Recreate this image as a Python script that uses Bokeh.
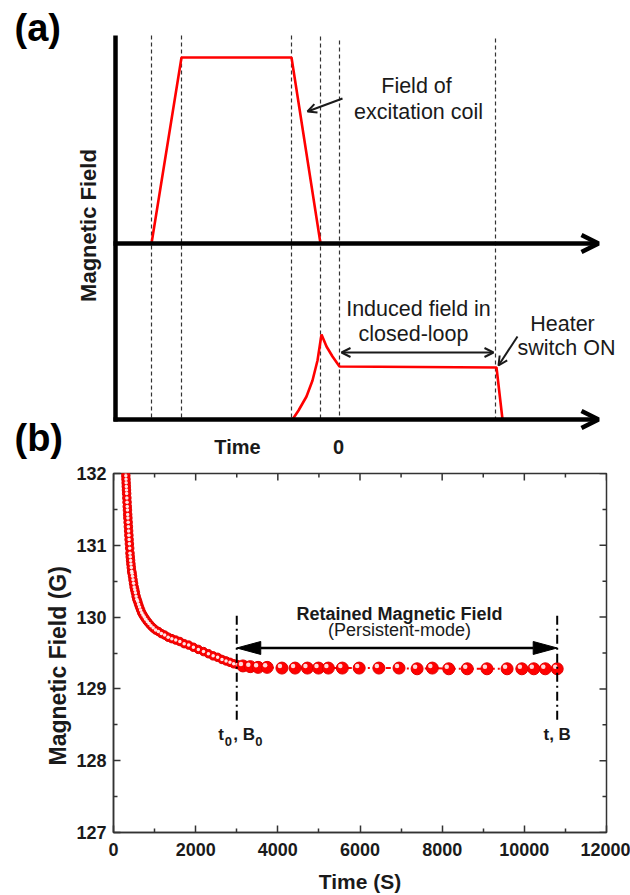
import math
from bokeh.plotting import figure
from bokeh.models import Range1d, FixedTicker, Arrow, OpenHead
from bokeh.embed import file_html
from bokeh.resources import INLINE
from bokeh.core.properties import value

FONT = "Liberation Sans"
RED = "#ff0000"
INK = "#1a1a1a"

# ---------------- panel (a): schematic (units = schematic pixels) ----------------
coil_t = [151, 181, 291, 320]
coil_B = [243, 57, 57, 243]
loop_t = [292, 298, 306, 312, 317, 321, 326, 332, 339, 496, 502]
loop_B = [419, 410, 396, 380, 360, 334, 346, 356, 366, 367, 419]
event_t = [151, 181, 291, 320, 339, 495]
event_top = [35, 35, 35, 36, 40, 38]
axis_left = 115
axis_top = 35
upper_base = 243
lower_base = 419
axis_end = 598

# ---------------- panel (b): measured data ----------------
t_early = [296, 300, 304, 308, 312, 316, 320, 325, 330, 335, 340, 345, 350, 356, 362,
           368, 374, 380, 387, 394, 401, 408, 416, 424, 433, 442, 452, 463, 475, 488,
           502, 517, 533, 550, 568, 588, 610, 634, 660, 688, 718, 750, 785, 823, 865,
           912, 965, 1025, 1092, 1165, 1245, 1330, 1420, 1515, 1615, 1720, 1830, 1945,
           2065, 2190, 2310, 2425, 2535, 2640, 2740, 2835, 2925, 3010]
B_early = [132.02, 131.97, 131.92, 131.87, 131.82, 131.77, 131.72, 131.66, 131.60, 131.54,
           131.49, 131.43, 131.38, 131.32, 131.26, 131.20, 131.14, 131.08, 131.02, 130.96,
           130.89, 130.84, 130.79, 130.74, 130.69, 130.64, 130.61, 130.57, 130.52, 130.47,
           130.42, 130.38, 130.34, 130.29, 130.25, 130.22, 130.18, 130.14, 130.10, 130.06,
           130.03, 130.00, 129.97, 129.94, 129.91, 129.88, 129.85, 129.82, 129.80, 129.77,
           129.75, 129.72, 129.70, 129.68, 129.66, 129.63, 129.61, 129.58, 129.55, 129.52,
           129.49, 129.46, 129.44, 129.41, 129.39, 129.37, 129.35, 129.34]
t_late = [3150, 3330, 3520, 3740, 4100, 4420, 4720, 4990, 5230, 5570, 5980, 6460, 6950,
          7390, 7760, 8160, 8610, 9090, 9580, 9940, 10230, 10510, 10800]
B_late = [129.32, 129.31, 129.30, 129.30, 129.29, 129.29, 129.29, 129.29, 129.29, 129.29,
          129.29, 129.29, 129.29, 129.28, 129.29, 129.28, 129.28, 129.28, 129.28, 129.28,
          129.28, 129.28, 129.28]
x_ticks = [0, 2000, 4000, 6000, 8000, 10000, 12000]
x_minor = [1000, 3000, 5000, 7000, 9000, 11000]
y_ticks = [127, 128, 129, 130, 131, 132]
y_minor = [127.5, 128.5, 129.5, 130.5, 131.5]
t0 = 3000
t_end = 10800
B_arrow = 129.57
B_dash_lo = 128.57
B_dash_hi = 130.07
B_label = 128.28

X0, X1, Y0, Y1 = 0, 12000, 127, 132

# ================= figure (a) =================
HA = 462
pa = figure(width=630, height=HA, x_range=Range1d(0, 630), y_range=Range1d(HA, 0),
            x_axis_type=None, y_axis_type=None, toolbar_location=None,
            output_backend="svg", min_border=0, outline_line_color=None)
pa.grid.visible = False

pa.segment(x0=event_t, y0=event_top, x1=event_t, y1=[lower_base] * len(event_t),
           line_color="#333333", line_width=1.2, line_dash="4 3")
pa.line(coil_t, coil_B, line_color=RED, line_width=2.6)
pa.line(loop_t, loop_B, line_color=RED, line_width=2.6)

pa.line([axis_left, axis_left], [axis_top, lower_base + 2], line_color="black", line_width=4.5)
for yb in (upper_base, lower_base):
    pa.add_layout(Arrow(end=OpenHead(size=17, line_width=4.5, line_color="black"),
                        x_start=axis_left - 2, y_start=yb, x_end=axis_end, y_end=yb,
                        line_width=4.5, line_color="black"))

# pointer arrows
pa.add_layout(Arrow(end=OpenHead(size=9, line_width=2, line_color=INK),
                    x_start=342, y_start=98, x_end=307, y_end=111,
                    line_width=2, line_color=INK))
pa.add_layout(Arrow(start=OpenHead(size=9, line_width=2, line_color=INK),
                    end=OpenHead(size=9, line_width=2, line_color=INK),
                    x_start=341, y_start=352, x_end=493, y_end=352,
                    line_width=2, line_color=INK))
pa.add_layout(Arrow(end=OpenHead(size=9, line_width=2, line_color=INK),
                    x_start=517, y_start=336, x_end=498, y_end=365,
                    line_width=2, line_color=INK))

pa.text(x=[416, 418, 418, 413, 562, 566], y=[93, 119, 316, 341, 331, 355],
        text=["Field of", "excitation coil", "Induced field in", "closed-loop",
              "Heater", "switch ON"], y_offset=-8,
        text_font=value(FONT), text_font_size="21.5px", text_color=INK,
        text_align="center", text_baseline="alphabetic")
pa.text(x=[237, 338], y=[453, 453], text=["Time", "0"], y_offset=-7,
        text_font=value(FONT), text_font_size="20px", text_font_style="bold",
        text_color=INK, text_align="center", text_baseline="alphabetic")
pa.text(x=[88], y=[225], text=["Magnetic Field"], angle=math.pi / 2,
        text_font=value(FONT), text_font_size="22px", text_font_style="bold",
        text_color=INK, text_align="center", text_baseline="middle")
pa.text(x=[14, 14], y=[40, 450], text=["(a)", "(b)"], y_offset=-13,
        text_font=value(FONT), text_font_size="38px", text_font_style="bold",
        text_color="black", text_align="left", text_baseline="alphabetic")

# ================= figure (b) =================
HB = 895 - HA
pb = figure(width=630, height=HB, x_range=Range1d(X0, X1), y_range=Range1d(Y0, Y1),
            toolbar_location=None, output_backend="svg",
            min_border_left=113, min_border_right=24, min_border_top=473 - HA,
            min_border_bottom=895 - 833, outline_line_color="#333333", outline_line_width=1.5)
pb.grid.visible = False

pb.xaxis.ticker = FixedTicker(ticks=x_ticks, minor_ticks=x_minor)
pb.yaxis.ticker = FixedTicker(ticks=y_ticks, minor_ticks=y_minor)
for ax in pb.axis:
    ax.axis_line_color = "#333333"
    ax.axis_line_width = 1.5
    ax.major_tick_line_color = "#333333"
    ax.minor_tick_line_color = "#333333"
    ax.major_tick_line_width = 1.5
    ax.minor_tick_line_width = 1.5
    ax.major_tick_in = 7
    ax.major_tick_out = 0
    ax.minor_tick_in = 4
    ax.minor_tick_out = 0
    ax.major_label_text_font = FONT
    ax.major_label_text_font_size = "18px"
    ax.major_label_text_font_style = "bold"
    ax.major_label_text_color = INK
    ax.axis_label_text_font = FONT
    ax.axis_label_text_font_style = "bold"
    ax.axis_label_text_color = INK

pb.xaxis.axis_label = "Time (S)"
pb.xaxis.axis_label_text_font_size = "21px"
pb.xaxis.major_label_standoff = 10
pb.xaxis.axis_label_standoff = 11
# trailing no-break spaces nudge the vertical title slightly below the frame centre
pb.yaxis.axis_label = "Magnetic Field (G)\u00a0\u00a0\u00a0\u00a0"
pb.yaxis.axis_label_text_font_size = "23px"
pb.yaxis.major_label_standoff = 7
pb.yaxis.axis_label_standoff = 2

px_x = (X1 - X0) / 493.0
px_y = (Y1 - Y0) / 360.0

# mirror ticks on top and right edges (same tick arrays)
pb.segment(x0=x_ticks, y0=[Y1] * len(x_ticks), x1=x_ticks, y1=[Y1 - 7 * px_y] * len(x_ticks),
           line_color="#333333", line_width=1.5)
pb.segment(x0=x_minor, y0=[Y1] * len(x_minor), x1=x_minor, y1=[Y1 - 4 * px_y] * len(x_minor),
           line_color="#333333", line_width=1.5)
pb.segment(x0=[X1] * len(y_ticks), y0=y_ticks, x1=[X1 - 7 * px_x] * len(y_ticks), y1=y_ticks,
           line_color="#333333", line_width=1.5)
pb.segment(x0=[X1] * len(y_minor), y0=y_minor, x1=[X1 - 4 * px_x] * len(y_minor), y1=y_minor,
           line_color="#333333", line_width=1.5)

# data
pb.scatter(t_early, B_early, size=8.5, fill_color=RED, line_color="#e00000", line_width=1)
pb.scatter(t_early, B_early, size=3.5, fill_color="white", line_color=None, fill_alpha=0.9)
pb.line(t_late, B_late, line_color=RED, line_width=2, line_dash="5 3 2 3")
pb.scatter(t_late, B_late, size=12, fill_color=RED, line_color="#e00000", line_width=1)
pb.scatter([t - 2 * px_x for t in t_late], [b + 2 * px_y for b in B_late], size=4.5,
           fill_color="white", line_color=None, fill_alpha=0.85)

# annotations
pb.segment(x0=[t0, t_end], y0=[B_dash_lo] * 2, x1=[t0, t_end], y1=[B_dash_hi] * 2,
           line_color="black", line_width=2, line_dash="9 4 2 4")
head_len = 24 * px_x
head_hw = 6.5 * px_y
pb.segment(x0=[t0 + head_len], y0=[B_arrow], x1=[t_end - head_len], y1=[B_arrow],
           line_color="black", line_width=2.5)
pb.patches(xs=[[t0, t0 + head_len, t0 + head_len], [t_end, t_end - head_len, t_end - head_len]],
           ys=[[B_arrow, B_arrow + head_hw, B_arrow - head_hw],
               [B_arrow, B_arrow + head_hw, B_arrow - head_hw]],
           fill_color="black", line_color="black", line_width=1)

pb.text(x=[6960], y=[129.958], text=["Retained Magnetic Field"], y_offset=-6,
        text_font=value(FONT), text_font_size="18px", text_font_style="bold",
        text_color=INK, text_align="center", text_baseline="alphabetic")
pb.text(x=[6960], y=[129.74], text=["(Persistent-mode)"], y_offset=-6,
        text_font=value(FONT), text_font_size="18px",
        text_color=INK, text_align="center", text_baseline="alphabetic")
# t0, B0 with subscripts
pb.text(x=[t0, t0], y=[B_label, B_label], text=["t", ", B"], x_offset=[-18.5, -3.5],
        y_offset=-6,
        text_font=value(FONT), text_font_size="17px", text_font_style="bold",
        text_color=INK, text_align="left", text_baseline="alphabetic")
pb.text(x=[t0, t0], y=[B_label, B_label], text=["0", "0"], x_offset=[-12, 18.5],
        y_offset=0.5,
        text_font=value(FONT), text_font_size="13px", text_font_style="bold",
        text_color=INK, text_align="left", text_baseline="alphabetic")
pb.text(x=[t_end], y=[B_label], text=["t, B"], y_offset=-6,
        text_font=value(FONT), text_font_size="17px", text_font_style="bold",
        text_color=INK, text_align="center", text_baseline="alphabetic")

open("out.html", "w").write(file_html([pa, pb], INLINE))
